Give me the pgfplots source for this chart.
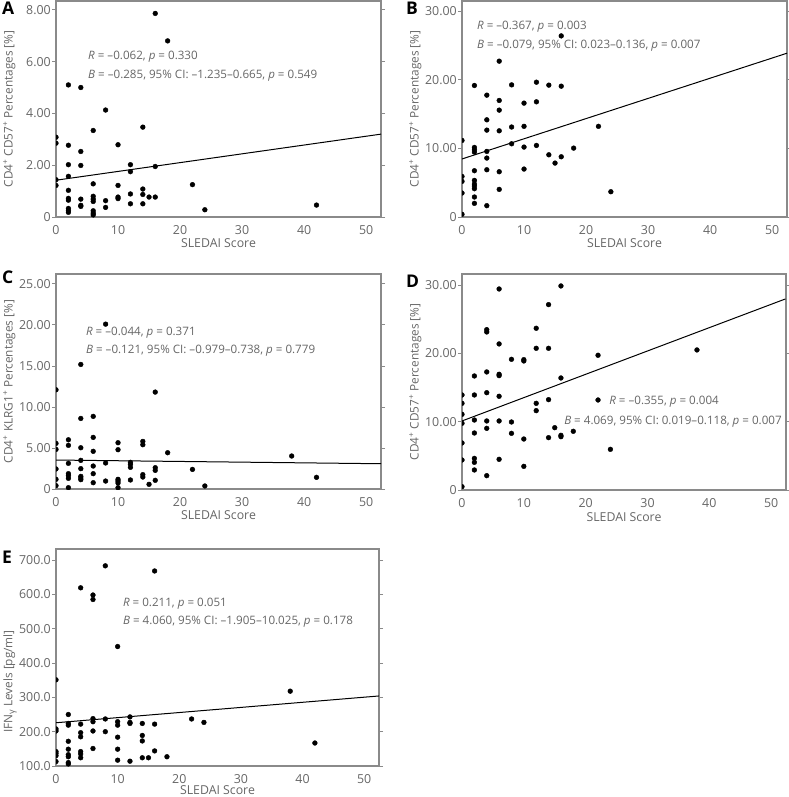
\documentclass[border=0pt]{standalone}
\usepackage{fontspec}
\setmainfont{Open Sans}
\usepackage{pgfplots}
\pgfplotsset{compat=1.18}
\definecolor{txt}{HTML}{666666}
\definecolor{axc}{HTML}{8A8A8A}
\pgfplotsset{panel/.style={
  scale only axis, width=325pt, height=216pt, anchor=south west,
  xmin=0, xmax=52.4, xtick={0,10,20,30,40,50}, xticklabels={0,10,20,30,40,50},
  axis line style={axc, line width=1.1pt},
  tick align=outside, major tick length=4pt,
  xtick style={draw=none}, ytick style={axc, line width=0.8pt},
  tick label style={font=\fontsize{12.4}{14}\selectfont, text=txt},
  xticklabel style={inner sep=0pt, yshift=-4pt},
  yticklabel style={inner sep=1pt},
  xlabel={SLEDAI Score},
  label style={font=\fontsize{12.3}{14}\selectfont, text=txt, inner sep=0pt},
  xlabel style={at={(axis description cs:0.5,-0.1435)}, anchor=base},
  ylabel style={at={(axis description cs:-0.1338,0.5)}, anchor=base, font=\fontsize{11.8}{13}\selectfont},
  clip marker paths=true,
  scatter/.style={only marks, mark=*, mark size=2.4pt, black},
  fit/.style={black, line width=1pt, no marks},
}}
\tikzset{ann/.style={anchor=base west, inner sep=0pt, text=txt, font=\fontsize{11.6}{13}\selectfont},
  plabel/.style={anchor=base west, inner sep=0pt, font=\fontsize{17.5}{17.5}\bfseries\selectfont}}
\begin{document}
\begin{tikzpicture}
\useasboundingbox (0,0) rectangle (788pt,-797pt);
% ---------------- A
\begin{axis}[panel, at={(56pt,-217pt)}, ymin=0, ymax=8.34,
  ytick={0,2,4,6,8}, yticklabels={0,2.00,4.00,6.00,8.00},
  ylabel={CD4\textsuperscript{+} CD57\textsuperscript{+} Percentages [\%]}]
\addplot[scatter] coordinates {
(0,3.08)(0,2.85)(0,1.44)(0,1.22)
(2,5.10)(2,2.77)(2,2.02)(2,1.57)(2,1.03)(2,0.72)(2,0.65)(2,0.33)(2,0.25)(2,0.18)
(4,5.00)(4,2.53)(4,1.99)(4,0.69)(4,0.45)(4,0.41)
(6,3.34)(6,1.28)(6,0.80)(6,0.69)(6,0.60)(6,0.24)(6,0.15)(6,0.08)
(8,4.13)(8,0.63)(8,0.37)
(10,2.79)(10,1.22)(10,0.77)(10,0.71)
(12,2.02)(12,1.75)(12,0.89)(12,0.51)
(14,3.47)(14,1.08)(14,0.87)(14,0.51)
(15,0.77)
(16,7.86)(16,1.95)(16,0.77)
(18,6.80)(22,1.25)(24,0.28)(42,0.46)};
\addplot[fit] coordinates {(0,1.42)(52.4,3.20)};
\node[ann] at (rel axis cs:0.0985,0.727) {\textit{R} = –0.062, \textit{p} = 0.330};
\node[ann] at (rel axis cs:0.0985,0.639) {\textit{B} = –0.285, 95\% CI: –1.235–0.665, \textit{p} = 0.549};
\end{axis}
% ---------------- B
\begin{axis}[panel, at={(462pt,-217pt)}, ymin=0, ymax=31.45,
  ytick={0,10,20,30}, yticklabels={0,10.00,20.00,30.00},
  ylabel={CD4\textsuperscript{+} CD57\textsuperscript{+} Percentages [\%]}]
\addplot[scatter] coordinates {
(0,11.15)(0,5.91)(0,5.19)(0,3.49)(0,0.39)
(2,19.15)(2,10.13)(2,9.79)(2,9.45)(2,6.74)(2,5.33)(2,4.80)(2,4.51)(2,4.12)(2,2.91)(2,1.99)
(4,17.74)(4,14.15)(4,12.65)(4,9.55)(4,8.58)(4,6.88)(4,1.65)
(6,22.69)(6,16.97)(6,15.56)(6,12.55)(6,6.59)(6,4.02)
(8,19.24)(8,13.1)(8,10.66)
(10,16.58)(10,13.2)(10,10.18)(10,6.98)
(12,19.63)(12,16.77)(12,10.42)
(14,19.2)(14,9.06)
(15,7.85)
(16,26.37)(16,19.05)(16,8.77)
(18,10.03)(22,13.2)(24,3.68)};
\addplot[fit] coordinates {(0,8.45)(52.4,23.85)};
\node[ann] at (rel axis cs:0.046,0.870) {\textit{R} = –0.367, \textit{p} = 0.003};
\node[ann] at (rel axis cs:0.046,0.782) {\textit{B} = –0.079, 95\% CI: 0.023–0.136, \textit{p} = 0.007};
\end{axis}
% ---------------- C
\begin{axis}[panel, at={(56pt,-489pt)}, height=215pt, ymin=0, ymax=26.2,
  ytick={0,5,10,15,20,25}, yticklabels={0,5.00,10.00,15.00,20.00,25.00},
  ylabel={CD4\textsuperscript{+} KLRG1\textsuperscript{+} Percentages [\%]}]
\addplot[scatter] coordinates {
(0,12.09)(0,5.56)(0,4.83)(0,2.44)(0,1.18)(0,0.41)
(2,6.0)(2,5.32)(2,3.13)(2,1.87)(2,1.62)(2,1.30)(2,0.16)
(4,15.18)(4,8.6)(4,5.03)(4,3.49)(4,2.48)(4,1.54)(4,1.34)(4,1.14)
(6,8.85)(6,6.29)(6,4.59)(6,2.80)(6,1.87)(6,0.77)
(8,20.09)(8,3.17)(8,0.97)
(10,5.64)(10,4.79)(10,1.18)(10,0.97)(10,0.73)(10,0.16)
(12,3.25)(12,3.0)(12,2.64)(12,1.10)
(14,5.80)(14,5.40)(14,1.75)(14,1.46)
(15,0.57)
(16,11.81)(16,2.60)(16,2.27)(16,1.06)
(18,4.42)(22,2.39)(24,0.37)(38,4.02)(42,1.42)};
\addplot[fit] coordinates {(0,3.53)(52.4,3.08)};
\node[ann] at (rel axis cs:0.092,0.716) {\textit{R} = –0.044, \textit{p} = 0.371};
\node[ann] at (rel axis cs:0.092,0.628) {\textit{B} = –0.121, 95\% CI: –0.979–0.738, \textit{p} = 0.779};
\end{axis}
% ---------------- D
\begin{axis}[panel, at={(462pt,-490pt)}, width=324pt, ymin=0, ymax=31.6,
  ytick={0,10,20,30}, yticklabels={0,10.00,20.00,30.00},
  ylabel style={at={(axis description cs:-0.1342,0.5)}},
  ylabel={CD4\textsuperscript{+} CD57\textsuperscript{+} Percentages [\%]}]
\addplot[scatter] coordinates {
(0,13.9)(0,12.68)(0,11.07)(0,9.76)(0,6.88)(0,4.39)(0,0.49)
(2,16.68)(2,13.9)(2,10.24)(2,8.34)(2,4.63)(2,4.05)(2,2.93)
(4,23.46)(4,23.12)(4,17.27)(4,14.24)(4,10.1)(4,9.02)(4,2.10)
(6,29.41)(6,21.37)(6,16.93)(6,16.73)(6,13.71)(6,10.1)(6,4.49)
(8,19.12)(8,9.95)(8,8.29)
(10,19.07)(10,18.88)(10,7.46)(10,3.46)
(12,23.66)(12,20.73)(12,12.68)(12,11.61)
(14,27.12)(14,20.73)(14,13.22)(14,7.66)
(15,9.12)
(16,29.85)(16,16.39)(16,8.0)(16,7.8)
(18,8.59)(22,19.71)(22,13.17)(24,5.95)(38,20.49)};
\addplot[fit] coordinates {(0,10.1)(52.3,27.95)};
\node[ann] at (rel axis cs:0.454,0.394) {\textit{R} = –0.355, \textit{p} = 0.004};
\node[ann] at (rel axis cs:0.315,0.301) {\textit{B} = 4.069, 95\% CI: 0.019–0.118, \textit{p} = 0.007};
\end{axis}
% ---------------- E
\begin{axis}[panel, at={(56pt,-766pt)}, width=323pt, height=217pt, ymin=100, ymax=732,
  ytick={100,200,300,400,500,600,700}, yticklabels={100.0,200.0,300.0,400.0,500.0,600.0,700.0},
  xlabel style={at={(axis description cs:0.5,-0.133)}},
  ylabel style={at={(axis description cs:-0.1347,0.39)}},
  ylabel={IFN\raisebox{-0.35ex}{\fontsize{9}{9}\selectfont γ} Levels [pg/ml]}]
\addplot[scatter] coordinates {
(0,351)(0,208)(0,202)(0,142)(0,137)(0,130)(0,113)
(2,250)(2,224)(2,219)(2,172)(2,149)(2,133)(2,127)(2,110)(2,106)
(4,619)(4,222)(4,197)(4,185)(4,142)(4,135)(4,124)
(6,598)(6,585)(6,238)(6,229)(6,202)(6,151)
(8,683)(8,237)(8,200)
(10,448)(10,229)(10,219)(10,184)(10,149)(10,117)
(12,243)(12,227)(12,224)(12,114)
(14,224)(14,189)(14,173)(14,124)
(15,124)
(16,668)(16,222)(16,144)
(18,127)(22,237)(24,227)(38,318)(42,167)};
\addplot[fit] coordinates {(0,226)(52.4,304)};
\node[ann] at (rel axis cs:0.207,0.737) {\textit{R} = 0.211, \textit{p} = 0.051};
\node[ann] at (rel axis cs:0.207,0.650) {\textit{B} = 4.060, 95\% CI: –1.905–10.025, \textit{p} = 0.178};
\end{axis}
% panel letters
\node[plabel] at (2pt,-15pt) {A};
\node[plabel] at (406pt,-15pt) {B};
\node[plabel] at (2pt,-283pt) {C};
\node[plabel] at (406pt,-287pt) {D};
\node[plabel] at (2pt,-563pt) {E};
\end{tikzpicture}
\end{document}
